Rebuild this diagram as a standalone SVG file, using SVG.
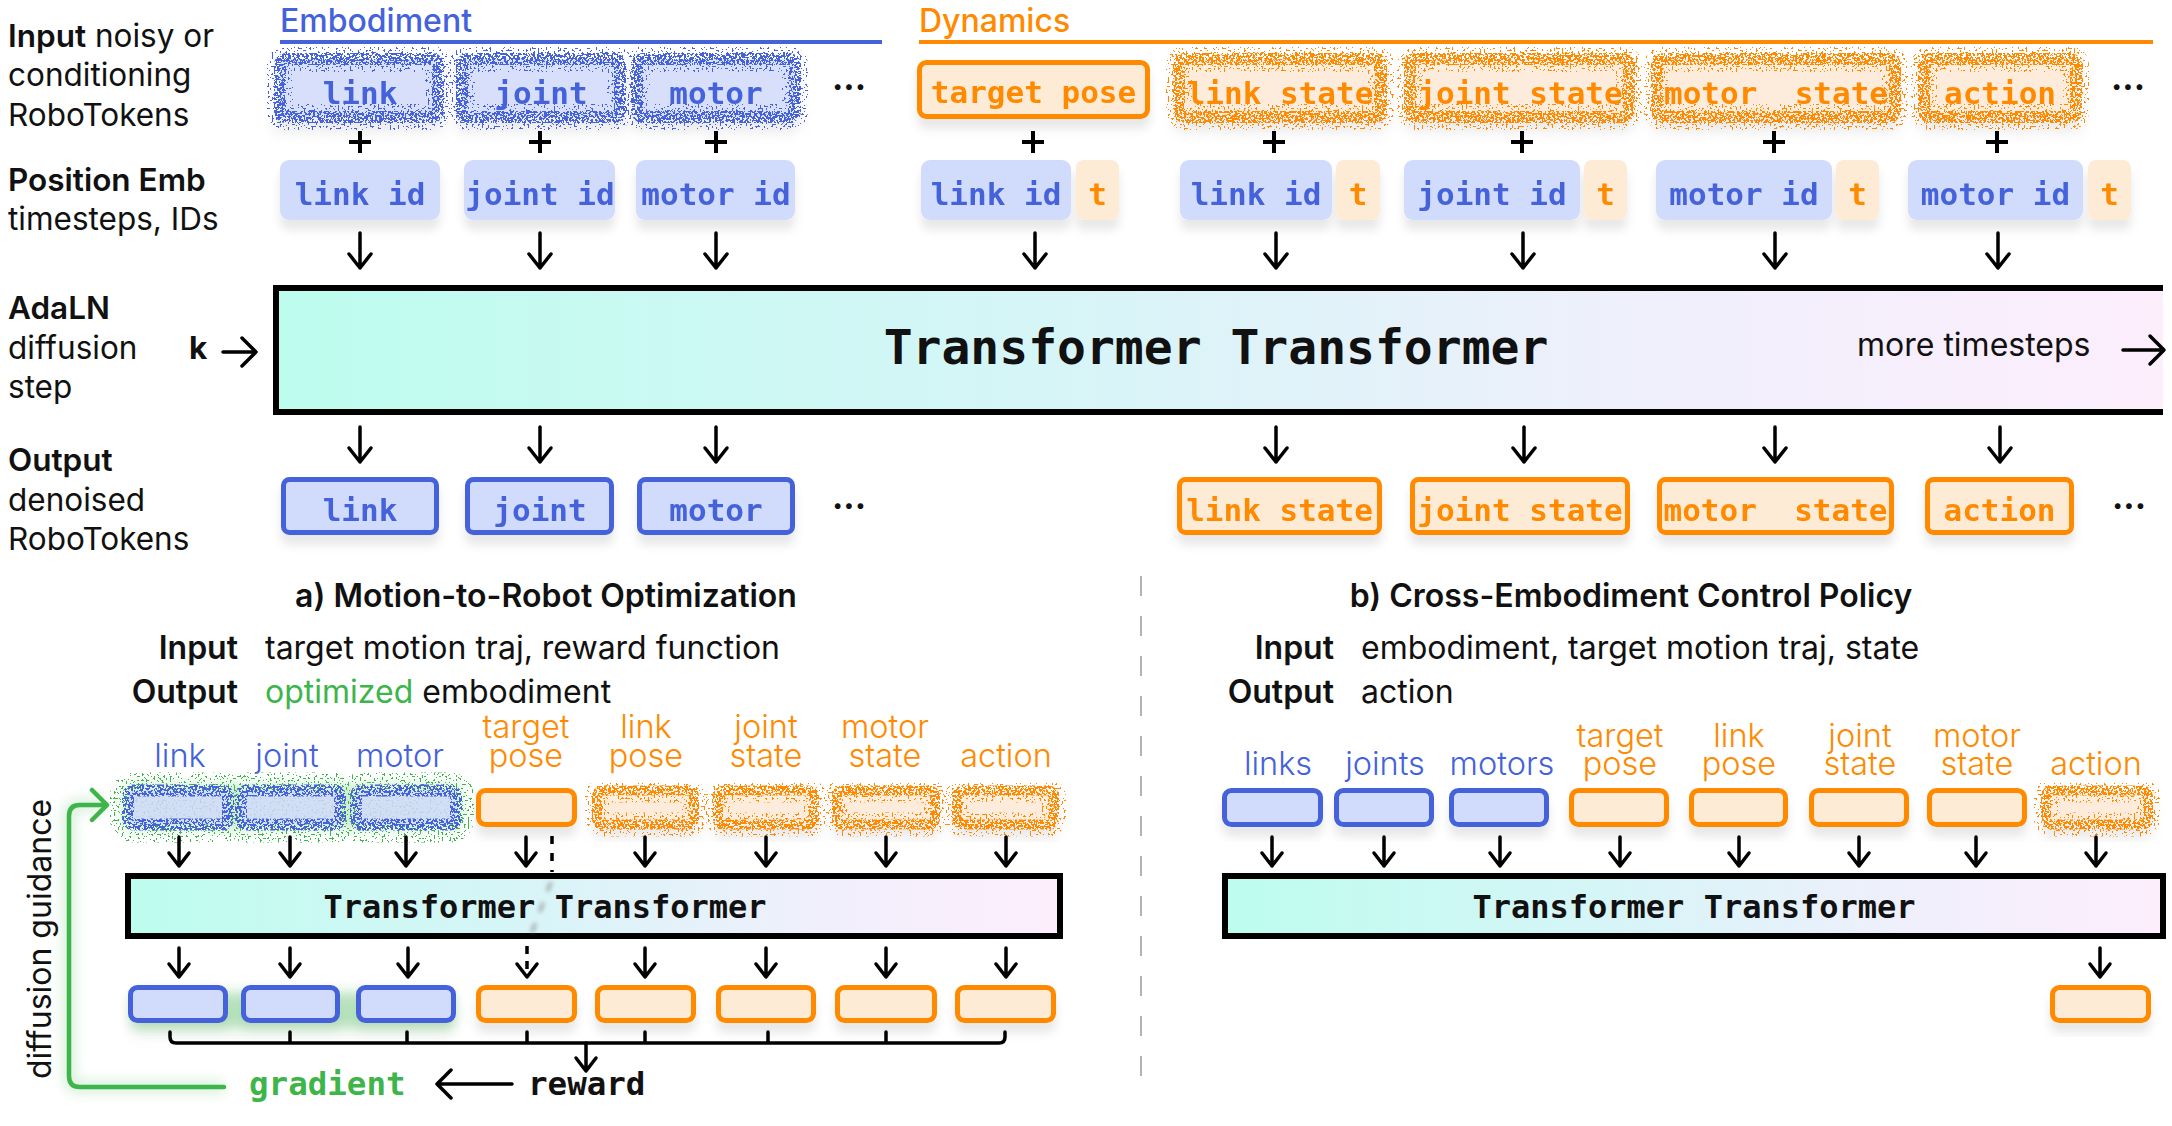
<svg xmlns="http://www.w3.org/2000/svg" xmlns:xlink="http://www.w3.org/1999/xlink" width="2172" height="1126" viewBox="0 0 2172 1126">
<style>
.sans{font-family:Inter,"Noto Sans","Liberation Sans",sans-serif}
.mono{font-family:"DejaVu Sans Mono","Liberation Mono",monospace;font-weight:700}
.lbl{font-size:32px;fill:#111}
.lft{font-size:31.5px}
.b{font-weight:600}
.tb{fill:#4462DB}
.to{fill:#FF8A00}
.tg{fill:#3DB54A}
.tok{font-size:31px;text-anchor:middle}
.bb{fill:#D1DCFD;stroke:#4462DB;stroke-width:5}
.bo{fill:#FEEBD6;stroke:#FF8A00;stroke-width:5}
.pb{fill:#D1DCFD}
.po{fill:#FEEBD6}
.arr{stroke:#000;stroke-width:3.5;fill:none;stroke-linecap:round;stroke-linejoin:round}
.nfb{fill:#D1DCFD;opacity:.85}
.nfo{fill:#FEEBD6;opacity:.85}
.nsb{fill:none;stroke:#4462DB}
.nso{fill:none;stroke:#FF8A00}
.nsg{fill:none;stroke:#3DB54A}
.sl{font-size:32.5px;font-weight:300;text-anchor:middle}
.dots{font-size:34px;font-weight:700;text-anchor:middle;fill:#111}
</style>
<defs>
<linearGradient id="tg" x1="0" y1="0" x2="1" y2="0">
<stop offset="0" stop-color="#BDFDEE"/>
<stop offset="0.45" stop-color="#D9F4F8"/>
<stop offset="0.75" stop-color="#F1EFFC"/>
<stop offset="1" stop-color="#FDEEFC"/>
</linearGradient>
<filter id="spkD" x="-25%" y="-60%" width="150%" height="220%" color-interpolation-filters="sRGB">
<feTurbulence type="fractalNoise" baseFrequency="0.45" numOctaves="2" seed="7" result="t"/>
<feColorMatrix in="t" type="matrix" values="0 0 0 0 0  0 0 0 0 0  0 0 0 0 0  1 0 0 0 0" result="a"/>
<feComponentTransfer in="a" result="th"><feFuncA type="discrete" tableValues="0 0 0 0 1 1 1 1"/></feComponentTransfer>
<feComposite in="SourceGraphic" in2="th" operator="in"/>
</filter>
<filter id="spkS" x="-25%" y="-70%" width="150%" height="240%" color-interpolation-filters="sRGB">
<feTurbulence type="fractalNoise" baseFrequency="0.5" numOctaves="2" seed="13" result="t"/>
<feColorMatrix in="t" type="matrix" values="0 0 0 0 0  0 0 0 0 0  0 0 0 0 0  1 0 0 0 0" result="a"/>
<feComponentTransfer in="a" result="th"><feFuncA type="discrete" tableValues="0 0 0 0 0 1 1 1"/></feComponentTransfer>
<feComposite in="SourceGraphic" in2="th" operator="in"/>
</filter>
<filter id="sh" x="-10%" y="-20%" width="120%" height="170%">
<feDropShadow dx="0" dy="10" stdDeviation="5" flood-color="#000" flood-opacity="0.09"/>
</filter>
<filter id="blur" x="-30%" y="-60%" width="160%" height="220%"><feGaussianBlur stdDeviation="6"/></filter>
<filter id="blur2" x="-30%" y="-60%" width="160%" height="220%"><feGaussianBlur stdDeviation="2"/></filter>
<path id="adn" d="M0 0 V35 M-11 21 L0 35 L11 21"/>
<path id="adn2" d="M0 0 V29 M-10 16 L0 29 L10 16"/>
</defs>
<rect width="2172" height="1126" fill="#fff"/>

<!-- headers and side labels -->
<g id="labels" class="sans">
<text x="280" y="32" font-size="32" font-weight="500" class="tb">Embodiment</text>
<rect x="280" y="40" width="602" height="4" fill="#4462DB"/>
<text x="919" y="32" font-size="32" font-weight="500" class="to">Dynamics</text>
<rect x="919" y="40" width="1234" height="4" fill="#FF8A00"/>
<text x="8" y="47" class="lbl lft"><tspan class="b">Input</tspan> noisy or</text>
<text x="8" y="86" class="lbl lft">conditioning</text>
<text x="8" y="126" class="lbl lft">RoboTokens</text>
<text x="8" y="191" class="lbl lft b">Position Emb</text>
<text x="8" y="230" class="lbl lft">timesteps, IDs</text>
<text x="8" y="319" class="lbl lft b">AdaLN</text>
<text x="8" y="359" class="lbl lft">diffusion</text>
<text x="8" y="398" class="lbl lft">step</text>
<text x="8" y="471" class="lbl lft b">Output</text>
<text x="8" y="511" class="lbl lft">denoised</text>
<text x="8" y="550" class="lbl lft">RoboTokens</text>
<text x="189" y="359" class="lbl lft" font-weight="700">k</text>
<text x="849" y="90" class="dots">...</text>
<text x="2128" y="90" class="dots">...</text>
<text x="849" y="509" class="dots">...</text>
<text x="2129" y="509" class="dots">...</text>
</g>

<!-- top row: embodiment noisy inputs -->
<g id="in-link" filter="url(#sh)">
<rect class="nfb" x="280" y="59" width="158" height="58" rx="6"/>
<rect class="nsb" x="280" y="59" width="158" height="58" rx="6" stroke-width="26" filter="url(#spkS)"/>
<rect class="nsb" x="280" y="59" width="158" height="58" rx="6" stroke-width="12" filter="url(#spkD)"/>
<text x="360" y="104" class="mono tok tb">link</text>
</g>
<g id="in-joint" filter="url(#sh)">
<rect class="nfb" x="462" y="59" width="158" height="58" rx="6"/>
<rect class="nsb" x="462" y="59" width="158" height="58" rx="6" stroke-width="26" filter="url(#spkS)"/>
<rect class="nsb" x="462" y="59" width="158" height="58" rx="6" stroke-width="12" filter="url(#spkD)"/>
<text x="541" y="104" class="mono tok tb">joint</text>
</g>
<g id="in-motor" filter="url(#sh)">
<rect class="nfb" x="637" y="59" width="158" height="58" rx="6"/>
<rect class="nsb" x="637" y="59" width="158" height="58" rx="6" stroke-width="26" filter="url(#spkS)"/>
<rect class="nsb" x="637" y="59" width="158" height="58" rx="6" stroke-width="12" filter="url(#spkD)"/>
<text x="716" y="104" class="mono tok tb">motor</text>
</g>

<!-- top row: dynamics inputs -->
<g id="in-target" filter="url(#sh)">
<rect class="bo" x="919.5" y="62.5" width="228" height="54" rx="7"/>
<text x="1033.5" y="103" class="mono tok to">target pose</text>
</g>
<g id="in-linkstate" filter="url(#sh)">
<rect class="nfo" x="1179" y="59" width="202" height="58" rx="6"/>
<rect class="nso" x="1179" y="59" width="202" height="58" rx="6" stroke-width="26" filter="url(#spkS)"/>
<rect class="nso" x="1179" y="59" width="202" height="58" rx="6" stroke-width="12" filter="url(#spkD)"/>
<text x="1280" y="104" class="mono tok to">link state</text>
</g>
<g id="in-jointstate" filter="url(#sh)">
<rect class="nfo" x="1410" y="59" width="219" height="58" rx="6"/>
<rect class="nso" x="1410" y="59" width="219" height="58" rx="6" stroke-width="26" filter="url(#spkS)"/>
<rect class="nso" x="1410" y="59" width="219" height="58" rx="6" stroke-width="12" filter="url(#spkD)"/>
<text x="1520" y="104" class="mono tok to">joint state</text>
</g>
<g id="in-motorstate" filter="url(#sh)">
<rect class="nfo" x="1657" y="59" width="238" height="58" rx="6"/>
<rect class="nso" x="1657" y="59" width="238" height="58" rx="6" stroke-width="26" filter="url(#spkS)"/>
<rect class="nso" x="1657" y="59" width="238" height="58" rx="6" stroke-width="12" filter="url(#spkD)"/>
<text x="1776" y="104" class="mono tok to" xml:space="preserve">motor  state</text>
</g>
<g id="in-action" filter="url(#sh)">
<rect class="nfo" x="1924" y="59" width="152" height="58" rx="6"/>
<rect class="nso" x="1924" y="59" width="152" height="58" rx="6" stroke-width="26" filter="url(#spkS)"/>
<rect class="nso" x="1924" y="59" width="152" height="58" rx="6" stroke-width="12" filter="url(#spkD)"/>
<text x="2000" y="104" class="mono tok to">action</text>
</g>

<!-- position embeddings -->
<g id="pe-emb" filter="url(#sh)">
<rect class="pb" x="280" y="160" width="160" height="60" rx="9"/>
<text x="360" y="205" class="mono tok tb">link id</text>
<rect class="pb" x="464" y="160" width="151" height="60" rx="9"/>
<text x="540" y="205" class="mono tok tb" font-size="28">joint id</text>
<rect class="pb" x="636" y="160" width="159" height="60" rx="9"/>
<text x="716" y="205" class="mono tok tb" font-size="28">motor id</text>
</g>
<g id="pe-dyn" filter="url(#sh)">
<rect class="pb" x="921" y="160" width="150" height="60" rx="9"/>
<text x="996" y="205" class="mono tok tb">link id</text>
<rect class="po" x="1076" y="160" width="43" height="60" rx="8"/>
<text x="1097.5" y="205" class="mono tok to">t</text>
<rect class="pb" x="1180" y="160" width="152" height="60" rx="9"/>
<text x="1256" y="205" class="mono tok tb">link id</text>
<rect class="po" x="1336" y="160" width="44" height="60" rx="8"/>
<text x="1358" y="205" class="mono tok to">t</text>
<rect class="pb" x="1404" y="160" width="176" height="60" rx="9"/>
<text x="1492" y="205" class="mono tok tb">joint id</text>
<rect class="po" x="1584" y="160" width="43" height="60" rx="8"/>
<text x="1605.5" y="205" class="mono tok to">t</text>
<rect class="pb" x="1656" y="160" width="176" height="60" rx="9"/>
<text x="1744" y="205" class="mono tok tb">motor id</text>
<rect class="po" x="1836" y="160" width="43" height="60" rx="8"/>
<text x="1857.5" y="205" class="mono tok to">t</text>
<rect class="pb" x="1908" y="160" width="175" height="60" rx="9"/>
<text x="1995.5" y="205" class="mono tok tb">motor id</text>
<rect class="po" x="2088" y="160" width="43" height="60" rx="8"/>
<text x="2109.5" y="205" class="mono tok to">t</text>
</g>

<!-- main transformer -->
<g id="transformer-main">
<rect x="276" y="288" width="1887" height="124" fill="url(#tg)"/>
<path d="M2163 288 H276 V412 H2163" fill="none" stroke="#000" stroke-width="6"/>
<text x="1216" y="364" class="mono" font-size="48" text-anchor="middle" fill="#111">Transformer Transformer</text>
<text x="1857" y="356" class="sans lbl">more timesteps</text>
</g>

<!-- outputs -->
<g id="out-emb" filter="url(#sh)">
<rect class="bb" x="283.5" y="479.5" width="153" height="53" rx="6"/>
<text x="360" y="521" class="mono tok tb">link</text>
<rect class="bb" x="467.5" y="479.5" width="144" height="53" rx="6"/>
<text x="540" y="521" class="mono tok tb">joint</text>
<rect class="bb" x="639.5" y="479.5" width="153" height="53" rx="6"/>
<text x="716" y="521" class="mono tok tb">motor</text>
</g>
<g id="out-dyn" filter="url(#sh)">
<rect class="bo" x="1179.5" y="479.5" width="200" height="53" rx="6"/>
<text x="1279.5" y="521" class="mono tok to">link state</text>
<rect class="bo" x="1412.5" y="479.5" width="215" height="53" rx="6"/>
<text x="1520" y="521" class="mono tok to">joint state</text>
<rect class="bo" x="1659.5" y="479.5" width="232" height="53" rx="6"/>
<text x="1775.5" y="521" class="mono tok to" xml:space="preserve">motor  state</text>
<rect class="bo" x="1927.5" y="479.5" width="144" height="53" rx="6"/>
<text x="1999.5" y="521" class="mono tok to">action</text>
</g>

<!-- section a -->
<g id="a-text" class="sans">
<text x="546" y="607" class="lbl b" text-anchor="middle">a) Motion-to-Robot Optimization</text>
<text x="238" y="659" class="lbl b" text-anchor="end">Input</text>
<text x="265" y="659" class="lbl">target motion traj, reward function</text>
<text x="238" y="703" class="lbl b" text-anchor="end">Output</text>
<text x="265" y="703" class="lbl"><tspan class="tg">optimized</tspan> embodiment</text>
<text x="180" y="767" class="sl tb">link</text>
<text x="287" y="767" class="sl tb">joint</text>
<text x="400" y="767" class="sl tb">motor</text>
<text x="526" y="738" class="sl to">target</text>
<text x="526" y="767" class="sl to">pose</text>
<text x="646" y="738" class="sl to">link</text>
<text x="646" y="767" class="sl to">pose</text>
<text x="766" y="738" class="sl to">joint</text>
<text x="766" y="767" class="sl to">state</text>
<text x="885" y="738" class="sl to">motor</text>
<text x="885" y="767" class="sl to">state</text>
<text x="1006" y="767" class="sl to">action</text>
<text transform="translate(51,939) rotate(-90)" class="lbl" font-size="33" text-anchor="middle" fill="#222">diffusion guidance</text>
</g>

<g id="a-in-emb">
<rect x="122" y="784" width="340" height="46" rx="10" fill="#3DB54A" opacity="0.25" filter="url(#blur)"/>
<rect class="nsg" x="128" y="790.5" width="100" height="34" rx="6" stroke-width="36" filter="url(#spkS)"/>
<rect class="nsg" x="241" y="790.5" width="99" height="34" rx="6" stroke-width="36" filter="url(#spkS)"/>
<rect class="nsg" x="356" y="790.5" width="100" height="34" rx="6" stroke-width="36" filter="url(#spkS)"/>
<rect class="nfb" x="128" y="790.5" width="100" height="34" rx="6"/>
<rect class="nfb" x="241" y="790.5" width="99" height="34" rx="6"/>
<rect class="nfb" x="356" y="790.5" width="100" height="34" rx="6"/>
<rect class="nsb" x="128" y="790.5" width="100" height="34" rx="6" stroke-width="12" filter="url(#spkD)"/>
<rect class="nsb" x="241" y="790.5" width="99" height="34" rx="6" stroke-width="12" filter="url(#spkD)"/>
<rect class="nsb" x="356" y="790.5" width="100" height="34" rx="6" stroke-width="12" filter="url(#spkD)"/>
</g>
<g id="a-in-dyn" filter="url(#sh)">
<rect class="bo" x="478.5" y="790.5" width="96" height="34" rx="7"/>
<rect class="nfo" x="597" y="790.5" width="97" height="34" rx="6"/>
<rect class="nso" x="597" y="790.5" width="97" height="34" rx="6" stroke-width="24" filter="url(#spkS)"/>
<rect class="nso" x="597" y="790.5" width="97" height="34" rx="6" stroke-width="10" filter="url(#spkD)"/>
<rect class="nfo" x="718" y="790.5" width="96" height="34" rx="6"/>
<rect class="nso" x="718" y="790.5" width="96" height="34" rx="6" stroke-width="24" filter="url(#spkS)"/>
<rect class="nso" x="718" y="790.5" width="96" height="34" rx="6" stroke-width="10" filter="url(#spkD)"/>
<rect class="nfo" x="837" y="790.5" width="98" height="34" rx="6"/>
<rect class="nso" x="837" y="790.5" width="98" height="34" rx="6" stroke-width="24" filter="url(#spkS)"/>
<rect class="nso" x="837" y="790.5" width="98" height="34" rx="6" stroke-width="10" filter="url(#spkD)"/>
<rect class="nfo" x="957" y="790.5" width="97" height="34" rx="6"/>
<rect class="nso" x="957" y="790.5" width="97" height="34" rx="6" stroke-width="24" filter="url(#spkS)"/>
<rect class="nso" x="957" y="790.5" width="97" height="34" rx="6" stroke-width="10" filter="url(#spkD)"/>
</g>

<g id="transformer-a">
<rect x="128" y="876" width="932" height="60" fill="url(#tg)" stroke="#000" stroke-width="6"/>
<text x="545" y="918" class="mono" font-size="32" text-anchor="middle" fill="#111">Transformer Transformer</text>
</g>

<g id="a-out" filter="url(#sh)">
<rect x="132" y="992" width="322" height="36" rx="8" fill="#3DB54A" opacity="0.35" filter="url(#blur)"/>
<rect class="bb" x="130.5" y="987.5" width="95" height="33" rx="7"/>
<rect class="bb" x="243.5" y="987.5" width="94" height="33" rx="7"/>
<rect class="bb" x="358.5" y="987.5" width="95" height="33" rx="7"/>
<rect class="bo" x="478.5" y="987.5" width="96" height="33" rx="7"/>
<rect class="bo" x="597.5" y="987.5" width="96" height="33" rx="7"/>
<rect class="bo" x="718.5" y="987.5" width="95" height="33" rx="7"/>
<rect class="bo" x="837.5" y="987.5" width="97" height="33" rx="7"/>
<rect class="bo" x="957.5" y="987.5" width="96" height="33" rx="7"/>
</g>

<g id="a-reward" class="mono">
<text x="528" y="1095" font-size="32.5" fill="#111">reward</text>
<text x="249" y="1095" font-size="32.5" class="tg">gradient</text>
</g>

<!-- section b -->
<g id="b-text" class="sans">
<text x="1631" y="607" class="lbl b" text-anchor="middle">b) Cross-Embodiment Control Policy</text>
<text x="1334" y="659" class="lbl b" text-anchor="end">Input</text>
<text x="1361" y="659" class="lbl">embodiment, target motion traj, state</text>
<text x="1334" y="703" class="lbl b" text-anchor="end">Output</text>
<text x="1361" y="703" class="lbl">action</text>
<text x="1278" y="775" class="sl tb">links</text>
<text x="1385" y="775" class="sl tb">joints</text>
<text x="1502" y="775" class="sl tb">motors</text>
<text x="1620" y="747" class="sl to">target</text>
<text x="1620" y="775" class="sl to">pose</text>
<text x="1739" y="747" class="sl to">link</text>
<text x="1739" y="775" class="sl to">pose</text>
<text x="1860" y="747" class="sl to">joint</text>
<text x="1860" y="775" class="sl to">state</text>
<text x="1977" y="747" class="sl to">motor</text>
<text x="1977" y="775" class="sl to">state</text>
<text x="2096" y="775" class="sl to">action</text>
</g>
<g id="b-in" filter="url(#sh)">
<rect class="bb" x="1224.5" y="790.5" width="96" height="34" rx="7"/>
<rect class="bb" x="1336.5" y="790.5" width="95" height="34" rx="7"/>
<rect class="bb" x="1451.5" y="790.5" width="95" height="34" rx="7"/>
<rect class="bo" x="1571.5" y="790.5" width="95" height="34" rx="7"/>
<rect class="bo" x="1691.5" y="790.5" width="94" height="34" rx="7"/>
<rect class="bo" x="1811.5" y="790.5" width="95" height="34" rx="7"/>
<rect class="bo" x="1929.5" y="790.5" width="95" height="34" rx="7"/>
<rect class="nfo" x="2046" y="790.5" width="102" height="34" rx="6"/>
<rect class="nso" x="2046" y="790.5" width="102" height="34" rx="6" stroke-width="24" filter="url(#spkS)"/>
<rect class="nso" x="2046" y="790.5" width="102" height="34" rx="6" stroke-width="10" filter="url(#spkD)"/>
</g>
<g id="transformer-b">
<rect x="1225" y="876" width="938" height="60" fill="url(#tg)" stroke="#000" stroke-width="6"/>
<text x="1694" y="918" class="mono" font-size="32" text-anchor="middle" fill="#111">Transformer Transformer</text>
</g>
<g id="b-out" filter="url(#sh)">
<rect class="bo" x="2052.5" y="987.5" width="96" height="33" rx="7"/>
</g>

<!-- connectors -->
<g id="connectors">
<g class="arr">
<path d="M349 142 H371 M360 131 V153 M529 142 H551 M540 131 V153 M705 142 H727 M716 131 V153 M1022 142 H1044 M1033 131 V153 M1263 142 H1285 M1274 131 V153 M1511 142 H1533 M1522 131 V153 M1763 142 H1785 M1774 131 V153 M1986 142 H2008 M1997 131 V153" stroke-width="4" stroke-linecap="butt"/>
<use href="#adn" x="360" y="233"/><use href="#adn" x="540" y="233"/><use href="#adn" x="716" y="233"/>
<use href="#adn" x="1035" y="233"/><use href="#adn" x="1276" y="233"/><use href="#adn" x="1523" y="233"/><use href="#adn" x="1775" y="233"/><use href="#adn" x="1998" y="233"/>
<use href="#adn" x="360" y="427"/><use href="#adn" x="540" y="427"/><use href="#adn" x="716" y="427"/>
<use href="#adn" x="1276" y="427"/><use href="#adn" x="1524" y="427"/><use href="#adn" x="1775" y="427"/><use href="#adn" x="2000" y="427"/>
<path d="M223 352 H256 M242 338 L256 352 L242 366"/>
<path d="M2123 350 H2164 M2150 336 L2164 350 L2150 364"/>
<use href="#adn2" x="179" y="837"/><use href="#adn2" x="290" y="837"/><use href="#adn2" x="406" y="837"/><use href="#adn2" x="526" y="837"/>
<use href="#adn2" x="645" y="837"/><use href="#adn2" x="766" y="837"/><use href="#adn2" x="886" y="837"/><use href="#adn2" x="1006" y="837"/>
<use href="#adn2" x="179" y="948"/><use href="#adn2" x="290" y="948"/><use href="#adn2" x="408" y="948"/>
<use href="#adn2" x="645" y="948"/><use href="#adn2" x="766" y="948"/><use href="#adn2" x="886" y="948"/><use href="#adn2" x="1006" y="948"/>
<path d="M552 836 V872" stroke-dasharray="8 9" stroke-linecap="butt"/>
<path d="M527 946 V977" stroke-dasharray="8 7" stroke-linecap="butt"/>
<path d="M517 964 L527 977 L537 964"/>
<path d="M170 1032 V1037 Q170 1043 176 1043 H999 Q1005 1043 1005 1037 V1032 M290 1032 V1043 M407 1032 V1043 M527 1032 V1043 M645 1032 V1043 M768 1032 V1043 M886 1032 V1043"/>
<path d="M586 1043 V1071 M576 1058 L586 1071 L596 1058"/>
<path d="M512 1084 H437 M451 1070 L437 1084 L451 1098"/>
<use href="#adn2" x="1272" y="837"/><use href="#adn2" x="1384" y="837"/><use href="#adn2" x="1500" y="837"/><use href="#adn2" x="1620" y="837"/>
<use href="#adn2" x="1739" y="837"/><use href="#adn2" x="1859" y="837"/><use href="#adn2" x="1976" y="837"/><use href="#adn2" x="2096" y="837"/>
<use href="#adn2" x="2100" y="948"/>
</g>
<path d="M551 882 L529 940" stroke="#888" stroke-width="4" stroke-dasharray="10 12" opacity="0.6" filter="url(#blur2)" fill="none"/>
<path d="M224 1087 H80 Q69 1087 69 1076 V816 Q69 805 80 805 H105" fill="none" stroke="#3DB54A" stroke-width="14" opacity="0.18" filter="url(#blur)"/>
<path d="M224 1087 H80 Q69 1087 69 1076 V816 Q69 805 80 805 H105 M92 790 L107 805 L92 820" fill="none" stroke="#3DB54A" stroke-width="4.5" stroke-linecap="round" stroke-linejoin="round"/>
<path d="M1141 576 V1095" stroke="#999" stroke-width="1.5" stroke-dasharray="20 20"/>
</g>
</svg>
